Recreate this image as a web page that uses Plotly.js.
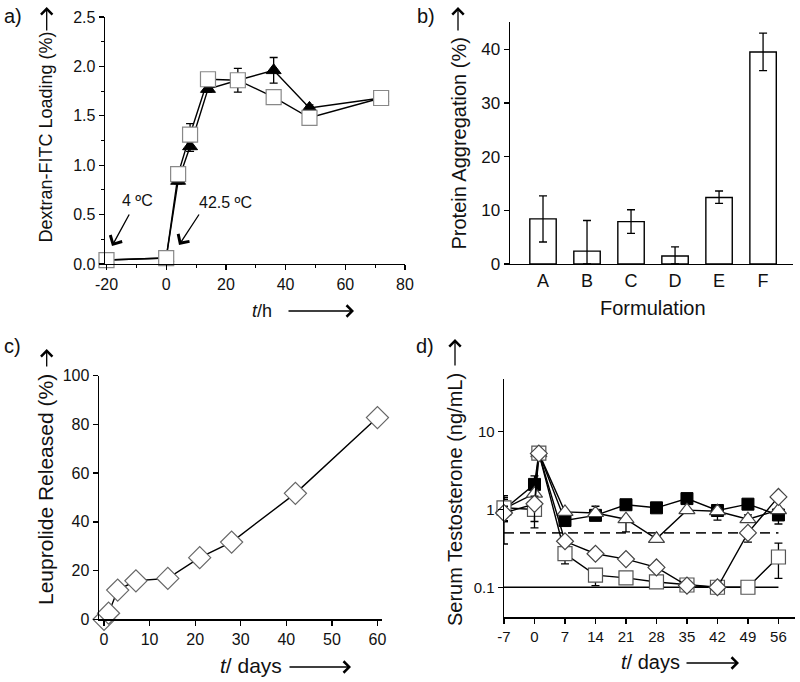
<!DOCTYPE html>
<html><head><meta charset="utf-8">
<script src="https://cdn.plot.ly/plotly-3.0.1.min.js"></script>
<style>html,body{margin:0;padding:0;background:#fff}#chart{width:800px;height:682px}</style>
</head><body><div id="chart"></div>
<script>
// ---- Panel a: Dextran-FITC loading ----
const loadTime = [-20, 0, 4, 8, 14, 24, 36, 48, 72];
const loadSquare = [0.04, 0.06, 0.91, 1.31, 1.87, 1.86, 1.69, 1.48, 1.68];
const loadSquareErr = [0.01, 0.01, 0.03, 0.11, 0.03, 0.12, 0.03, 0.03, 0.03];
const loadTriangle = [0.04, 0.06, 0.84, 1.19, 1.77, 1.86, 1.96, 1.58, 1.68];
const loadTriangleErr = [0.01, 0.01, 0.03, 0.05, 0.03, 0.05, 0.13, 0.03, 0.07];
const loadTickVals = [-20, 0, 20, 40, 60, 80];
const loadTickText = ['-20', '0', '20', '40', '60', '80'];

// ---- Panel b: Protein aggregation ----
const formulations = ['A', 'B', 'C', 'D', 'E', 'F'];
const aggregation = [8.4, 2.4, 7.9, 1.5, 12.4, 39.5];
const aggErrPlus = [4.3, 5.7, 2.2, 1.7, 1.2, 3.5];
const aggErrMinus = [4.3, 2.4, 2.2, 1.5, 1.1, 3.5];

// ---- Panel c: Leuprolide release ----
const releaseDays = [0, 1, 3, 7, 14, 21, 28, 42, 60];
const released = [0, 2.5, 12, 15.8, 16.8, 25.3, 31.7, 51.7, 82.8];

// ---- Panel d: Serum testosterone ----
const serumDays = [-7, 0, 1, 7, 14, 21, 28, 35, 42, 49, 56];
const filledSquare = [1.0, 2.1, 5.3, 0.72, 0.84, 1.15, 1.05, 1.38, 0.97, 1.17, 0.85];
const filledSquarePlus = [0.5, 0.6, 0, 0.05, 0.05, 0.05, 0.05, 0.15, 0.05, 0.08, 0.05];
const filledSquareMinus = [0.3, 0.5, 0, 0.1, 0.1, 0.05, 0.05, 0.1, 0.05, 0.08, 0.2];
const openTriangle = [1.02, 1.6, 5.3, 0.93, 0.9, 0.75, 0.42, 0.98, 0.95, 0.75, 0.98];
const openTrianglePlus = [0.4, 0.3, 0, 0.05, 0.2, 0.05, 0.03, 0.05, 0.05, 0.1, 0.05];
const openTriangleMinus = [0.3, 0.3, 0, 0.05, 0.05, 0.235, 0.03, 0.05, 0.22, 0.05, 0.05];
const openSquare = [1.05, 1.0, 5.3, 0.27, 0.143, 0.132, 0.117, 0.107, 0.1, 0.1, 0.245];
const openSquarePlus = [0.3, 0.2, 0, 0.05, 0.017, 0.01, 0.01, 0.005, 0, 0, 0.125];
const openSquareMinus = [0.35, 0.3, 0, 0.07, 0.038, 0.02, 0.01, 0.005, 0, 0, 0.115];
const openDiamond = [0.9, 1.18, 5.25, 0.39, 0.27, 0.23, 0.18, 0.105, 0.1, 0.5, 1.45];
const openDiamondPlus = [0.2, 0.3, 0, 0.02, 0.02, 0.02, 0.02, 0, 0, 0.05, 0.05];
const openDiamondMinus = [0.54, 0.6, 0, 0.02, 0.02, 0.02, 0.02, 0, 0, 0.12, 0.05];
const limitDays = [-7, 56];
const detectionLimit = [0.1, 0.1];
const castrationLevel = [0.5, 0.5];
const serumTickVals = [-7, 0, 7, 14, 21, 28, 35, 42, 49, 56];
const serumTickText = ['-7', '0', '7', '14', '21', '28', '35', '42', '49', '56'];
const serumLogTickVals = [0.1, 1, 10];
const serumLogTickText = ['0.1', '1', '10'];

const FONT = 'Liberation Sans, Arial, Helvetica, sans-serif';
const W = 800, H = 682;
const px = v => v / W;
const py = v => 1 - v / H;

const errStyle = {thickness: 1.3, width: 4, color: '#000'};
const lineStyle = {color: '#000', width: 1.4};

const traces = [
  // a
  {x: loadTime, y: loadTriangle, xaxis: 'x', yaxis: 'y', mode: 'lines+markers', cliponaxis: false,
   line: lineStyle, marker: {symbol: 'triangle-up', size: 13, color: '#000', line: {color: '#000', width: 1}},
   error_y: Object.assign({type: 'data', array: loadTriangleErr, visible: true}, errStyle)},
  {x: loadTime, y: loadSquare, xaxis: 'x', yaxis: 'y', mode: 'lines+markers', cliponaxis: false,
   line: lineStyle, marker: {symbol: 'square', size: 15, color: '#fff', line: {color: '#888', width: 1.2}},
   error_y: Object.assign({type: 'data', array: loadSquareErr, visible: true}, errStyle)},
  // b
  {type: 'bar', x: formulations, y: aggregation, xaxis: 'x2', yaxis: 'y2', width: 0.6,
   marker: {color: '#fff', line: {color: '#000', width: 1.4}},
   error_y: Object.assign({type: 'data', symmetric: false, array: aggErrPlus, arrayminus: aggErrMinus, visible: true}, errStyle)},
  // c
  {x: releaseDays, y: released, xaxis: 'x3', yaxis: 'y3', mode: 'lines+markers', cliponaxis: false,
   line: lineStyle, marker: {symbol: 'diamond', size: 17, color: '#fff', line: {color: '#666', width: 1.2}}},
  // d
  {x: limitDays, y: detectionLimit, xaxis: 'x4', yaxis: 'y4', mode: 'lines', line: {color: '#000', width: 1.3}},
  {x: limitDays, y: castrationLevel, xaxis: 'x4', yaxis: 'y4', mode: 'lines', line: {color: '#222', width: 1.6, dash: '10px,6px'}},
  {x: serumDays, y: filledSquare, xaxis: 'x4', yaxis: 'y4', mode: 'lines+markers', cliponaxis: false,
   line: lineStyle, marker: {symbol: 'square', size: 12, color: '#000', line: {color: '#000', width: 1}},
   error_y: Object.assign({type: 'data', symmetric: false, array: filledSquarePlus, arrayminus: filledSquareMinus, visible: true}, errStyle)},
  {x: serumDays, y: openTriangle, xaxis: 'x4', yaxis: 'y4', mode: 'lines+markers', cliponaxis: false,
   line: lineStyle, marker: {symbol: 'triangle-up', size: 14, color: '#fff', line: {color: '#444', width: 1.2}},
   error_y: Object.assign({type: 'data', symmetric: false, array: openTrianglePlus, arrayminus: openTriangleMinus, visible: true}, errStyle)},
  {x: serumDays, y: openSquare, xaxis: 'x4', yaxis: 'y4', mode: 'lines+markers', cliponaxis: false,
   line: lineStyle, marker: {symbol: 'square', size: 14, color: '#fff', line: {color: '#555', width: 1.2}},
   error_y: Object.assign({type: 'data', symmetric: false, array: openSquarePlus, arrayminus: openSquareMinus, visible: true}, errStyle)},
  {x: serumDays, y: openDiamond, xaxis: 'x4', yaxis: 'y4', mode: 'lines+markers', cliponaxis: false,
   line: lineStyle, marker: {symbol: 'diamond', size: 13, color: '#fff', line: {color: '#444', width: 1.2}},
   error_y: Object.assign({type: 'data', symmetric: false, array: openDiamondPlus, arrayminus: openDiamondMinus, visible: true}, errStyle)}
];

function axis(extra) {
  return Object.assign({
    showline: true, linecolor: '#000', linewidth: 1.4, showgrid: false, zeroline: false,
    ticks: 'outside', ticklen: 5, tickwidth: 1.3, tickcolor: '#000',
    tickfont: {family: FONT, size: 16, color: '#111'}, fixedrange: true
  }, extra);
}

function label(text, x, y, size, extra) {
  return Object.assign({text: text, xref: 'paper', yref: 'paper', x: px(x), y: py(y),
    xanchor: 'center', yanchor: 'middle', showarrow: false,
    font: {family: FONT, size: size, color: '#111'}}, extra || {});
}
function arrow(tipX, tipY, dx, dy, sz) {
  return {text: '', xref: 'paper', yref: 'paper', x: px(tipX), y: py(tipY), ax: dx, ay: dy,
    showarrow: true, arrowhead: 4, arrowsize: sz || 1.7, arrowwidth: 1.3, arrowcolor: '#000', standoff: 0, startstandoff: 0};
}

const annotations = [
  label('a)', 13, 16, 20), label('b)', 426, 16, 20), label('c)', 12, 346, 20), label('d)', 425, 346, 20),
  // a
  label('Dextran-FITC Loading (%)', 45, 137.5, 18, {textangle: -90}),
  arrow(46.7, 7, 0, 25),
  label('<i>t</i>/h', 262, 311, 18),
  arrow(354, 311, -67, 0),
  label('4 ºC', 137, 201, 16),
  arrow(112, 246, 18, -33, 2),
  label('42.5 ºC', 226, 203, 16),
  arrow(179, 245, 21, -32, 2),
  // b
  label('Protein Aggregation (%)', 458, 143.5, 20, {textangle: -90}),
  arrow(458, 7, 0, 25),
  label('Formulation', 653, 308, 20),
  // c
  label('Leuprolide Released (%)', 45, 490, 21, {textangle: -90}),
  arrow(46.7, 349, 0, 19),
  label('<i>t</i>/ days', 251, 665, 21),
  arrow(351, 667, -63, 0),
  // d
  label('Serum Testosterone (ng/mL)', 455, 500, 20, {textangle: -90}),
  arrow(455, 339, 0, 28),
  label('<i>t</i>/ days', 650, 662, 20),
  arrow(739, 663, -54, 0)
];

const layout = {
  width: W, height: H, margin: {l: 0, r: 0, t: 0, b: 0},
  paper_bgcolor: '#fff', plot_bgcolor: 'rgba(0,0,0,0)', showlegend: false,
  font: {family: FONT, color: '#111'},
  xaxis: axis({domain: [px(105), px(405)], anchor: 'y', range: [-20.5, 80],
    tickmode: 'array', tickvals: loadTickVals, ticktext: loadTickText,
    minor: {ticks: 'outside', dtick: 10, tick0: -20, ticklen: 3, tickwidth: 1, tickcolor: '#000'}}),
  yaxis: axis({domain: [py(264), py(17)], anchor: 'x', range: [0, 2.5], dtick: 0.5, tickformat: '.1f',
    minor: {ticks: 'outside', dtick: 0.25, ticklen: 3, tickwidth: 1, tickcolor: '#000'}}),
  xaxis2: axis({domain: [px(510), px(793)], anchor: 'y2', type: 'category', range: [-0.75, 5.68], ticks: '',
    tickfont: {family: FONT, size: 18, color: '#111'}}),
  yaxis2: axis({domain: [py(264), py(22.4)], anchor: 'x2', range: [0, 45], dtick: 10,
    tickfont: {family: FONT, size: 17, color: '#111'}}),
  xaxis3: axis({domain: [px(99), px(382)], anchor: 'y3', range: [-1.1, 61], dtick: 10}),
  yaxis3: axis({domain: [py(619.3), py(375.7)], anchor: 'x3', range: [0, 100], dtick: 20}),
  xaxis4: axis({domain: [px(504), px(795)], anchor: 'y4', range: [-7, 59.8],
    tickmode: 'array', tickvals: serumTickVals, ticktext: serumTickText,
    tickfont: {family: FONT, size: 15, color: '#111'}}),
  yaxis4: axis({domain: [py(617.3), py(379.3)], anchor: 'x4', type: 'log', range: [-1.386, 1.673],
    tickmode: 'array', tickvals: serumLogTickVals, ticktext: serumLogTickText,
    tickfont: {family: FONT, size: 15, color: '#111'}}),
  annotations: annotations
};

Plotly.newPlot('chart', traces, layout, {displayModeBar: false, staticPlot: true});
</script>
</body></html>
